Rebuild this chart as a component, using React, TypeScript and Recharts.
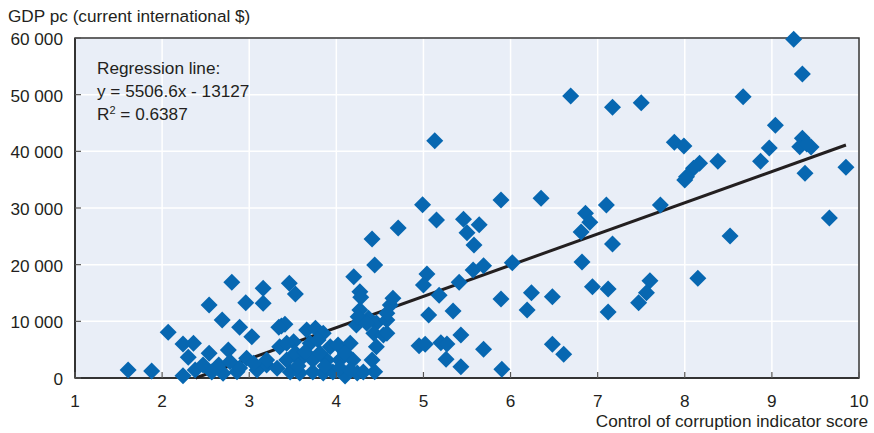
import React from "react";
import { ScatterChart, Scatter, XAxis, YAxis, CartesianGrid, ReferenceArea } from "recharts";

const corruptionScore = [
  9.25, 9.35, 8.67, 9.04, 6.69, 7.17, 7.5, 5.13, 7.88, 7.99, 8.97, 9.35, 9.32, 9.45, 9.4, 8.38, 8.17, 8.1, 8.02, 8.0,
  8.87, 9.38, 9.85, 7.1, 7.72, 6.86, 6.91, 6.81, 7.17, 8.52, 9.66, 6.82, 8.15, 6.94, 7.12, 7.6, 7.56, 7.47, 7.12, 6.61,
  4.99, 4.71, 5.15, 5.46, 5.64, 5.5, 5.58, 5.89, 6.35, 6.02, 5.57, 5.69, 5.04, 5.0, 5.41, 5.18, 5.89, 6.24, 6.48, 6.19,
  5.06, 5.34, 5.43, 4.95, 5.02, 5.2, 5.27, 5.26, 5.43, 5.69, 5.9, 6.48, 4.41, 4.44, 4.2, 4.27, 4.28, 4.27, 4.37, 4.23,
  4.46, 4.43, 4.54, 4.58, 4.62, 4.65, 4.58, 4.46, 4.41, 4.44, 3.16, 3.16, 3.46, 3.53, 3.37, 3.41, 3.03, 1.61, 1.88, 2.07,
  2.24, 2.24, 2.36, 2.3, 2.54, 2.8, 2.96, 2.69, 2.89, 2.54, 3.34, 3.51, 3.66, 3.76, 3.85,
  3.35, 3.43, 3.7, 3.79, 3.93, 4.02, 4.16, 4.25, 4.35, 4.58,
  3.47, 3.58, 3.73, 3.85, 3.96, 4.1, 4.24, 4.31,
  3.43, 3.58, 3.73, 3.89, 4.04, 4.19, 3.53, 3.81, 4.1,
  2.76, 2.97, 2.38, 2.7, 2.86, 3.09, 3.2, 3.32, 2.65, 2.47, 2.78, 3.05, 3.2,
  3.64, 3.87, 4.04, 3.56, 4.16, 2.89, 2.57,
];

const gdpPerCapita = [
  59800, 53650, 49640, 44600, 49770, 47770, 48580, 41880, 41590, 40940, 40590, 42300, 40820, 40770, 41300, 38240, 37890, 37010, 35520, 34940,
  38240, 36130, 37180, 30530, 30530, 29070, 27480, 25770, 23650, 25060, 28240, 20470, 17590, 16110, 15710, 17170, 15050, 13290, 11650, 4180,
  30580, 26470, 27880, 28000, 27050, 25640, 23470, 31410, 31710, 20350, 19060, 19820, 18350, 16410, 16890, 14590, 13940, 15050, 14350, 12000,
  11120, 11820, 7590, 5700, 5950, 6230, 6000, 3300, 1990, 5060, 1540, 5950, 24530, 19940, 17880, 15230, 14240, 12000, 10540, 9350,
  9710, 7890, 7590, 10240, 12880, 14060, 11420, 5520, 3180, 1110, 15830, 13180, 16710, 14820, 9180, 9480, 7290, 1410, 1240, 8060,
  410, 6000, 6120, 3650, 12880, 16890, 13290, 10240, 8950, 4360, 8950, 6410, 8470, 8770, 7890,
  5530, 6120, 6120, 6710, 5530, 5820, 6120, 10820, 9650, 7890,
  1060, 880, 1060, 880, 1060, 350, 880, 1060,
  3180, 3180, 3180, 3180, 3180, 3180, 4410, 4410, 4410,
  4940, 3480, 1410, 830, 1110, 1410, 2290, 1710, 2290, 2290, 2880, 2590, 3180,
  4590, 2120, 1770, 2120, 1410, 1770, 1060,
];

const xTicks = [1, 2, 3, 4, 5, 6, 7, 8, 9, 10];
const yTicks = [0, 10000, 20000, 30000, 40000, 50000, 60000];
const regressionSlope = 5506.6;
const regressionIntercept = -13127;
const regressionRange = [2.384, 9.85];

const points = corruptionScore.map((x, i) => ({ x, y: gdpPerCapita[i] }));
const regressionPoints = regressionRange.map((x) => ({ x, y: regressionSlope * x + regressionIntercept }));

const FONT = "'Liberation Sans', Arial, sans-serif";
const FS = 17.2;
const TEXT = "#231F20";
const BLUE = "#0767B1";

const fmt = (v: number) => {
  const s = String(v);
  return s.replace(/\B(?=(\d{3})+(?!\d))/g, " ");
};

const Diamond = (props: any) => {
  const { cx, cy } = props;
  if (cx == null || cy == null) return <g />;
  const r = 8.5;
  return <polygon points={`${cx},${cy - r} ${cx + r},${cy} ${cx},${cy + r} ${cx - r},${cy}`} fill={BLUE} />;
};

const YTick = (props: any) => {
  const { x, y, payload } = props;
  return (
    <g>
      <line x1={x} x2={x + 6} y1={y} y2={y} stroke="#555" strokeWidth={1.2} />
      <text x={x - 12} y={y} dy={7} textAnchor="end" fill={TEXT} fontFamily={FONT} fontSize={FS}>
        {fmt(payload.value)}
      </text>
    </g>
  );
};

const XTick = (props: any) => {
  const { x, y, payload } = props;
  return (
    <g>
      <line x1={x} x2={x} y1={y} y2={y - 6} stroke="#555" strokeWidth={1.2} />
      <text x={x} y={y + 29} textAnchor="middle" fill={TEXT} fontFamily={FONT} fontSize={FS}>
        {payload.value}
      </text>
    </g>
  );
};

const textStyle: React.CSSProperties = {
  position: "absolute",
  fontFamily: FONT,
  fontSize: FS,
  color: TEXT,
  whiteSpace: "nowrap",
  lineHeight: "23px",
};

export default function App() {
  return (
    <div style={{ position: "absolute", left: 0, top: 0, width: 874, height: 433, background: "#fff" }}>
      <ScatterChart width={874} height={433} margin={{ top: 38, right: 15, bottom: 0, left: 0 }}>
        <CartesianGrid stroke="#ffffff" strokeWidth={1.5} fill="#E9EEF7" horizontalValues={yTicks} verticalValues={xTicks} />
        <XAxis
          type="number"
          dataKey="x"
          domain={[1, 10]}
          ticks={xTicks}
          height={55}
          tickSize={0}
          tickMargin={0}
          tick={<XTick />}
          axisLine={{ stroke: "#333", strokeWidth: 2 }}
          tickLine={false}
        />
        <YAxis
          type="number"
          dataKey="y"
          domain={[0, 60000]}
          ticks={yTicks}
          width={75}
          tickSize={0}
          tickMargin={0}
          tick={<YTick />}
          axisLine={{ stroke: "#333", strokeWidth: 2 }}
          tickLine={false}
        />
        <ReferenceArea x1={1} x2={10} y1={0} y2={60000} fill="none" stroke="#333" strokeWidth={1.5} ifOverflow="visible" />
        <Scatter
          data={regressionPoints}
          line={{ stroke: "#231F20", strokeWidth: 3 }}
          shape={() => <g />}
          isAnimationActive={false}
          legendType="none"
        />
        <Scatter data={points} shape={<Diamond />} isAnimationActive={false} />
      </ScatterChart>
      <div style={{ ...textStyle, left: 8, top: 5 }}>GDP pc (current international $)</div>
      <div style={{ ...textStyle, left: 97, top: 57 }}>
        Regression line:
        <br />
        y = 5506.6x - 13127
        <br />
        R<sup style={{ fontSize: 11, verticalAlign: "top", lineHeight: "14px" }}>2</sup> = 0.6387
      </div>
      <div style={{ ...textStyle, right: 6, top: 410 }}>Control of corruption indicator score</div>
    </div>
  );
}
